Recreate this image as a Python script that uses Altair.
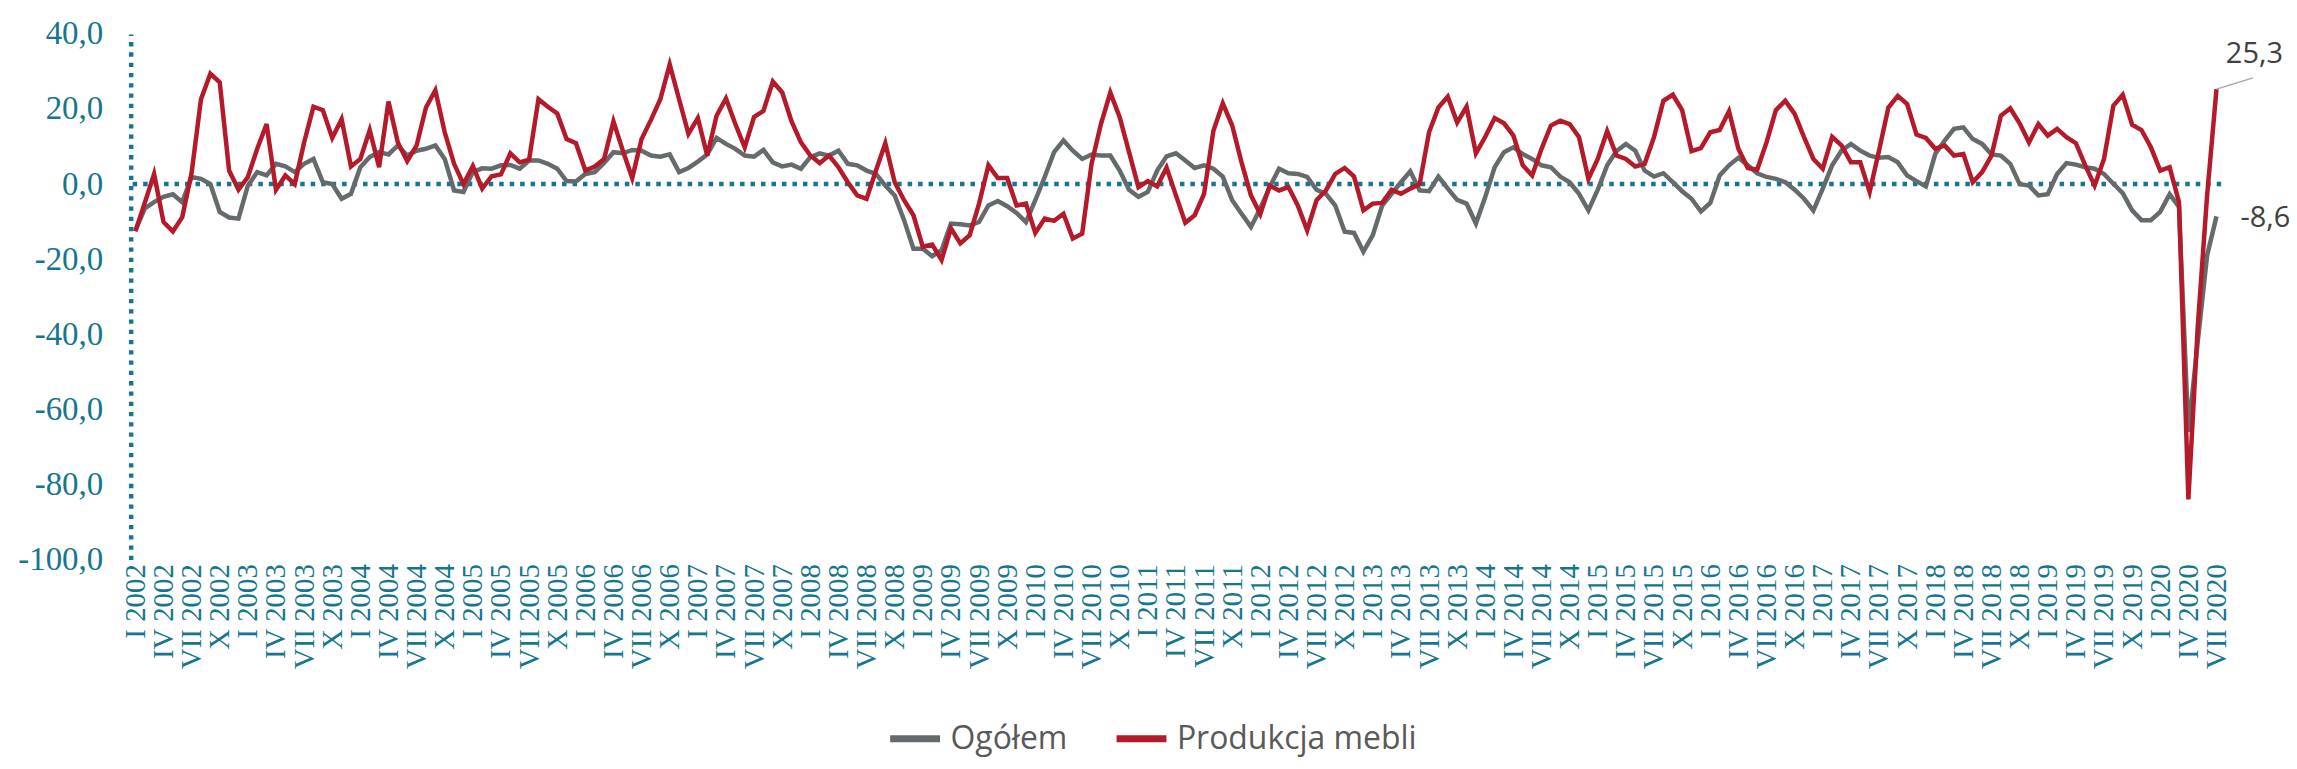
import json
import altair as alt
import pandas as pd

# ---- data (monthly, I 2002 .. VII 2020) ----
ogolem = [
    -12.3, -6.5, -4.8, -3.4, -2.7, -4.8, 1.9, 1.4, 0.0, -7.4, -8.9, -9.2,
    -0.4, 3.2, 2.3, 5.4, 4.7, 3.2, 5.4, 6.7, 0.5, 0.0, -3.9, -2.6,
    4.5, 7.2, 8.5, 7.9, 10.3, 7.6, 8.9, 9.4, 10.3, 6.7, -1.7, -2.1,
    3.2, 4.2, 4.1, 5.0, 5.1, 4.1, 6.3, 6.3, 5.4, 4.1, 0.8, 0.7,
    2.7, 3.2, 5.6, 8.5, 8.2, 9.1, 8.9, 7.6, 7.3, 7.9, 3.2, 4.3,
    6.0, 7.9, 12.3, 10.7, 9.4, 7.6, 7.3, 9.1, 5.8, 4.7, 5.2, 4.1,
    7.2, 8.2, 7.6, 8.9, 5.4, 5.0, 3.6, 2.7, -0.4, -3.0, -9.6, -17.2,
    -17.2, -19.2, -17.6, -10.5, -10.7, -11.0, -10.1, -5.7, -4.5, -5.9, -7.7, -10.1,
    -4.3, 1.9, 8.5, 11.6, 8.9, 6.7, 7.9, 7.6, 7.6, 3.6, -1.5, -3.4,
    -2.1, 3.6, 7.4, 8.2, 6.3, 4.3, 5.0, 4.1, 2.0, -4.3, -7.9, -11.4,
    -6.5, -0.8, 4.1, 2.9, 2.7, 1.9, -1.5, -2.6, -5.7, -12.7, -13.0, -18.0,
    -13.6, -5.7, -2.6, 0.5, 3.4, -1.7, -1.9, 2.0, -1.2, -4.2, -5.2, -10.5,
    -3.4, 4.5, 8.5, 9.8, 8.0, 6.7, 5.0, 4.5, 2.0, 0.5, -2.6, -7.0,
    -1.5, 5.0, 8.8, 10.7, 8.9, 3.6, 2.0, 2.9, 0.5, -1.9, -3.9, -7.3,
    -5.0, 2.3, 5.0, 7.0, 5.0, 2.9, 1.9, 1.4, 0.5, -1.5, -3.9, -7.0,
    -1.2, 5.0, 8.9, 10.7, 8.9, 7.6, 7.0, 7.2, 5.8, 2.3, 0.8, -0.6,
    8.0, 11.6, 14.7, 15.1, 12.0, 10.7, 7.9, 7.6, 5.4, 0.0, -0.4, -3.0,
    -2.7, 2.7, 5.6, 5.2, 4.5, 4.1, 2.7, 0.1, -2.4, -7.0, -9.6, -9.6,
    -7.4, -2.7, -6.1, -66.0, -42.0, -19.0, -8.6,
]
meble = [
    -12.6, -5.0, 2.7, -10.1, -12.6, -8.8, 3.0, 22.6, 29.4, 27.1, 3.6, -1.5,
    1.9, 9.4, 16.0, -1.5, 2.3, 0.0, 11.1, 20.6, 19.7, 12.3, 17.3, 4.7,
    6.7, 14.4, 4.5, 22.0, 11.1, 6.1, 10.3, 20.4, 25.0, 13.8, 5.4, 0.0,
    4.8, -1.2, 2.1, 2.6, 8.2, 5.8, 6.5, 22.6, 20.6, 18.8, 12.0, 10.9,
    3.6, 4.7, 6.7, 16.7, 8.9, 1.6, 12.0, 17.1, 22.6, 31.9, 22.6, 13.4,
    17.6, 7.6, 18.2, 22.8, 16.0, 9.8, 17.9, 19.5, 27.3, 24.4, 16.7, 11.1,
    7.6, 5.6, 7.6, 4.5, 0.5, -3.0, -3.9, 3.6, 10.9, 0.5, -4.3, -8.3,
    -16.7, -16.1, -20.2, -11.8, -15.8, -13.6, -5.2, 5.0, 1.6, 1.6, -5.7, -5.2,
    -13.0, -9.2, -9.8, -7.9, -14.5, -13.2, 5.4, 16.0, 24.4, 17.8, 8.5, -0.8,
    0.8, -0.6, 4.4, -3.0, -10.3, -8.3, -2.6, 14.2, 21.5, 15.6, 5.8, -3.0,
    -8.0, -0.4, -1.7, -0.8, -5.7, -12.3, -4.3, -1.7, 2.7, 4.3, 2.0, -7.0,
    -5.2, -5.0, -1.5, -2.6, -1.2, 0.0, 13.8, 20.4, 23.3, 16.4, 20.6, 8.2,
    12.6, 17.6, 16.2, 12.9, 5.0, 2.3, 9.4, 15.6, 16.9, 16.0, 12.5, 1.4,
    6.7, 14.1, 7.6, 6.7, 4.7, 5.4, 12.5, 22.2, 23.8, 19.7, 8.8, 9.6,
    13.8, 14.4, 19.4, 9.4, 4.3, 3.8, 11.1, 19.7, 22.2, 18.7, 12.5, 6.7,
    4.1, 12.6, 10.3, 5.8, 5.8, -2.1, 8.9, 20.4, 23.5, 21.3, 13.2, 12.3,
    9.4, 10.3, 7.6, 8.0, 0.5, 3.2, 7.6, 18.2, 20.2, 16.2, 11.1, 16.0,
    12.9, 14.7, 12.5, 10.9, 5.0, -0.4, 6.7, 20.9, 23.8, 15.8, 14.4, 9.8,
    3.6, 4.5, -4.8, -84.0, -38.0, -3.0, 25.3,
]
series_names = ["Ogółem", "Produkcja mebli"]
roman = ["I", "II", "III", "IV", "V", "VI", "VII", "VIII", "IX", "X", "XI", "XII"]
years = list(range(2002, 2021))
month_labels = [f"{r} {y}" for y in years for r in roman][: len(meble)]
y_ticks = list(range(-100, 41, 20))

# ---- styling ----
TEAL = "#17768F"
GRAY = "#656A6C"
RED = "#B41A2A"
TXT = "#404040"

n = len(meble)
df = pd.DataFrame({
    "i": list(range(n)) * 2,
    "value": ogolem + meble,
    "series": [series_names[0]] * n + [series_names[1]] * n,
})
last = pd.DataFrame({
    "i": [n - 1, n - 1],
    "value": [ogolem[-1], meble[-1]],
    "series": series_names,
})
last["txt"] = [f"{v:.1f}".replace(".", ",") for v in last["value"]]

x_axis = alt.Axis(
    values=list(range(0, n, 3)),
    labelExpr=json.dumps(month_labels, ensure_ascii=False) + "[datum.value]",
    domain=False, ticks=False, tickSize=0, grid=False,
    labelAngle=270, labelAlign="right", labelBaseline="middle",
    labelFont="Liberation Serif", labelFontSize=29, labelColor=TEAL,
    labelPadding=4, labelOverlap=False, labelFlush=False, labelBound=False,
    labelSeparation=0,
)
y_axis = alt.Axis(
    values=y_ticks,
    labelExpr="(datum.value < 0 ? '-' : '') + abs(datum.value) + ',0'",
    domain=True, domainColor=TEAL, domainWidth=4.5, domainDash=[4.3, 6],
    domainCap="butt",
    ticks=False, tickSize=0, grid=False,
    labelFont="Liberation Serif", labelFontSize=33, labelColor=TEAL,
    labelPadding=28, labelOverlap=False,
)
x_scale = alt.Scale(domain=[-0.5, n - 0.5], nice=False, zero=False)
y_scale = alt.Scale(domain=[-100, 40], nice=False, zero=False)
x_enc = alt.X("i:Q", title=None, scale=x_scale, axis=x_axis)
y_enc = alt.Y("value:Q", title=None, scale=y_scale, axis=y_axis)

color_enc = alt.Color(
    "series:N",
    title=None,
    scale=alt.Scale(domain=series_names, range=[GRAY, RED]),
    legend=alt.Legend(
        orient="none", legendX=758, legendY=678, direction="horizontal",
        symbolType="stroke", symbolSize=2500, symbolStrokeWidth=7,
        labelFont="Open Sans", labelFontSize=32, labelColor="#595959",
        labelOffset=7, columnPadding=34, padding=0, labelLimit=0,
    ),
)

zero = alt.Chart(pd.DataFrame({"value": [0]})).mark_rule(
    color=TEAL, strokeWidth=4.5, strokeDash=[4.5, 6], strokeCap="butt"
).encode(y=y_enc)

gray_line = alt.Chart(df).transform_filter(
    alt.datum.series == series_names[0]
).mark_line(strokeWidth=4.5).encode(x=x_enc, y=y_enc, color=color_enc)

red_line = alt.Chart(df).transform_filter(
    alt.datum.series == series_names[1]
).mark_line(strokeWidth=4.5).encode(x=x_enc, y=y_enc, color=color_enc)

leader = alt.Chart(last).transform_filter(
    alt.datum.series == series_names[1]
).transform_calculate(
    i2="datum.i + 3.9", v2="datum.value + 3.0"
).mark_rule(color="#A6A6A6", strokeWidth=1.5).encode(
    x=x_enc, y=y_enc, x2="i2:Q", y2="v2:Q"
)

red_txt = alt.Chart(last).transform_filter(
    alt.datum.series == series_names[1]
).mark_text(
    font="Open Sans", fontSize=29, color=TXT, align="center",
    baseline="middle", dx=38, dy=-35
).encode(x=x_enc, y=y_enc, text="txt:N")

gray_txt = alt.Chart(last).transform_filter(
    alt.datum.series == series_names[0]
).mark_text(
    font="Open Sans", fontSize=29, color=TXT, align="left",
    baseline="middle", dx=24, dy=2
).encode(x=x_enc, y=y_enc, text="txt:N")

chart = alt.layer(zero, gray_line, red_line, leader, red_txt, gray_txt).properties(
    width=2096, height=527,
    autosize=alt.AutoSizeParams(type="none"),
    padding={"left": 123, "top": 25, "right": 68, "bottom": 200},
).configure_view(stroke=None)

chart.save("out.html", embed_options={"renderer": "svg", "actions": False})
